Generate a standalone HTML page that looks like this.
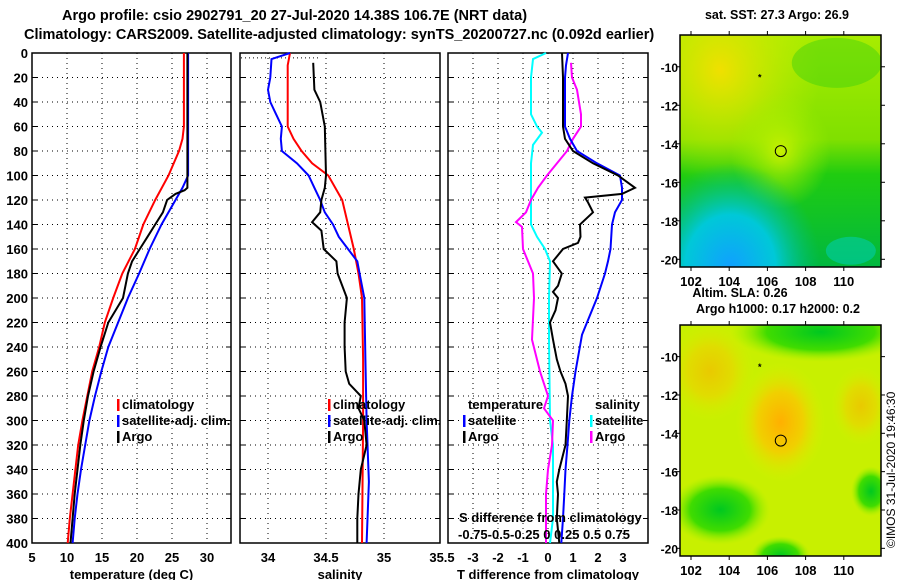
<!DOCTYPE html>
<html><head><meta charset="utf-8"><style>
html,body{margin:0;padding:0;background:#fff;}
svg{display:block;font-family:"Liberation Sans",sans-serif;font-weight:bold;}
</style></head><body>
<svg id="chart" width="900" height="580" viewBox="0 0 900 580" xmlns="http://www.w3.org/2000/svg">
<defs>
<radialGradient id="sstYel" cx="0.2" cy="0.15" r="0.5"><stop offset="0" stop-color="#f0e000"/><stop offset="1" stop-color="#c8f000" stop-opacity="0"/></radialGradient>
<radialGradient id="sstMid" cx="0.5" cy="0.5" r="0.25"><stop offset="0" stop-color="#c8f000"/><stop offset="1" stop-color="#a0f000" stop-opacity="0"/></radialGradient>
<radialGradient id="sstBlue" cx="0.25" cy="1" r="0.45"><stop offset="0" stop-color="#10a0ff"/><stop offset="0.5" stop-color="#00c8d8"/><stop offset="1" stop-color="#00c080" stop-opacity="0"/></radialGradient>
<linearGradient id="sstBase" x1="0" y1="0" x2="0" y2="1"><stop offset="0" stop-color="#a8ec00"/><stop offset="0.45" stop-color="#80e000"/><stop offset="0.6" stop-color="#20cc10"/><stop offset="1" stop-color="#00b840"/></linearGradient>
<radialGradient id="slaOr" cx="0.5" cy="0.5" r="0.5"><stop offset="0" stop-color="#ffb000"/><stop offset="0.5" stop-color="#f0d000"/><stop offset="1" stop-color="#d8f000" stop-opacity="0"/></radialGradient>
<radialGradient id="slaGr" cx="0.5" cy="0.5" r="0.5"><stop offset="0" stop-color="#00c820"/><stop offset="0.6" stop-color="#40dc00"/><stop offset="1" stop-color="#a0f000" stop-opacity="0"/></radialGradient>
<clipPath id="clipSst"><rect x="680" y="35" width="201" height="232"/></clipPath>
<clipPath id="clipSla"><rect x="680" y="325" width="201" height="231"/></clipPath>
</defs>
<g font-size="14.5">
<text x="62" y="20">Argo profile: csio 2902791_20 27-Jul-2020 14.38S 106.7E (NRT data)</text>
<text x="24" y="39">Climatology: CARS2009. Satellite-adjusted climatology: synTS_20200727.nc (0.092d earlier)</text>
</g>
<g id="panels"></g>
<g id="maps"></g>
<text transform="translate(895,548) rotate(-90)" font-size="12" font-weight="normal">©IMOS 31-Jul-2020 19:46:30</text>
</svg>
<script>
// ---- data (depth in m) ----
const tempClimDepth = [0,60,70,80,100,120,140,160,180,200,220,240,260,280,300,320,340,360,380,400];
const tempClim = [26.7,26.7,26.5,26,24.5,22.6,20.9,19.7,17.9,16.6,15.4,14.6,13.6,12.9,12.2,11.6,11.2,10.8,10.4,10.1];
const tempSatDepth = [0,100,110,120,140,160,180,200,220,240,260,280,300,320,340,360,380,400];
const tempSat = [27.3,27.3,26.5,25.5,23.5,21.8,20.3,18.7,17.3,15.9,14.9,14.0,13.2,12.6,12.0,11.5,11.1,10.8];
const tempArgoDepth = [0,110,112,115,120,130,140,150,160,170,180,200,220,240,260,280,300,320,340,360,380,400];
const tempArgo = [27.2,27.2,26.8,25.5,24.3,23.7,22.6,21.5,20.4,19.3,18.7,18,15.9,14.8,13.8,13.0,12.4,11.9,11.5,11.1,10.8,10.5];
const salClimDepth = [0,10,60,70,80,90,100,120,140,160,180,200,250,300,400];
const salClim = [34.19,34.17,34.17,34.22,34.29,34.38,34.52,34.64,34.69,34.74,34.78,34.81,34.82,34.82,34.81];
const salSatDepth = [0,5,20,30,40,50,60,70,80,90,100,110,120,130,140,150,160,170,180,200,250,300,350,400];
const salSat = [34.19,34.03,34.02,34.0,34.02,34.07,34.12,34.11,34.12,34.25,34.35,34.4,34.45,34.49,34.56,34.61,34.69,34.77,34.79,34.83,34.84,34.85,34.87,34.85];
const salArgoDepth = [8,30,40,60,100,110,120,130,138,145,160,170,180,200,220,240,260,270,280,290,300,320,340,360,380,400];
const salArgo = [34.39,34.4,34.45,34.49,34.5,34.49,34.46,34.45,34.38,34.46,34.48,34.59,34.6,34.68,34.66,34.66,34.67,34.7,34.8,34.78,34.83,34.85,34.8,34.78,34.77,34.77];
const tdSatDepth = [0,10,20,60,70,80,90,100,110,120,130,140,160,170,180,200,220,230,260,280,300,320,340,360,380,400];
const tdSat = [0.8,0.72,0.68,0.68,0.88,1.16,1.96,2.88,2.96,2.96,2.68,2.56,2.5,2.4,2.28,1.96,1.56,1.36,1.1,0.96,0.85,0.78,0.7,0.65,0.6,0.53];
const tdArgoDepth = [0,20,60,70,80,90,100,110,115,118,122,130,140,150,155,160,170,180,190,195,200,210,220,234,250,260,270,280,300,320,340,350,360,380,400];
const tdArgo = [0.56,0.6,0.6,0.68,1.0,1.8,2.8,3.48,2.96,1.48,1.6,1.8,1.28,1.3,1.2,0.6,0.2,0.55,0.4,0.2,0.4,0.3,0.08,0.2,0.35,0.5,0.7,0.8,0.75,0.7,0.45,0.35,0.4,0.35,0.45];
const sdSatDepth = [0,5,20,50,60,65,75,90,140,150,160,170,200,234,300,320,380,400];
const sdSat = [-0.02,-0.15,-0.17,-0.17,-0.11,-0.06,-0.15,-0.17,-0.17,-0.11,-0.03,0.02,0.01,0.01,0.02,0.05,0.05,0.02];
const sdArgoDepth = [8,20,30,50,60,70,80,90,100,110,120,130,138,142,160,170,180,200,234,260,280,290,300,320,340,360,400];
const sdArgo = [0.23,0.24,0.29,0.33,0.33,0.25,0.19,0.09,-0.01,-0.1,-0.17,-0.22,-0.32,-0.26,-0.25,-0.2,-0.15,-0.14,-0.16,-0.08,0,-0.04,0.05,0.04,0,-0.02,-0.02];
const depthTicks = [0,20,40,60,80,100,120,140,160,180,200,220,240,260,280,300,320,340,360,380,400];
const tempTicks = [5,10,15,20,25,30];
const salTicks = ['34','34.5','35','35.5'];
const tdTicks = [-3,-2,-1,0,1,2,3];
const latTicks = [-10,-12,-14,-16,-18,-20];
const lonTicks = [102,104,106,108,110];

const NS='http://www.w3.org/2000/svg';
function mk(tag, attrs, parent){const e=document.createElementNS(NS,tag);for(const k in attrs)e.setAttribute(k,attrs[k]);parent.appendChild(e);return e;}
const Y0=53, Y1=543;
const yD = d => Y0 + d*(Y1-Y0)/400;
const panels=document.getElementById('panels');

function panel(name,x0,x1,xs,ticks,labels,xlab,yLabels){
  const g=mk('g',{},panels);
  
  
  depthTicks.forEach(d=>{
    const y=yD(d);
    if(d>0&&d<400){const l=mk('line',{x1:x0,x2:x1,y1:y,y2:y,stroke:'#000','stroke-dasharray':'1,4','stroke-width':1},g);
      
      }
    mk('line',{x1:x0,x2:x0+5,y1:y,y2:y,stroke:'#000'},g);
    mk('line',{x1:x1-5,x2:x1,y1:y,y2:y,stroke:'#000'},g);
    if(yLabels){const t=mk('text',{x:x0-4,y:y+5,'text-anchor':'end','font-size':13},g);t.textContent=d;
      
      }
  });
  ticks.forEach((v,i)=>{
    const x=xs(v);
    if(x>x0+1&&x<x1-1){const l=mk('line',{x1:x,x2:x,y1:Y0,y2:Y1,stroke:'#000','stroke-dasharray':'1,4'},g);
      
      }
    const t=mk('text',{x:x,y:Y1+19,'text-anchor':'middle','font-size':13},g);t.textContent=labels[i];
    
    
  });
  mk('rect',{x:x0,y:Y0,width:x1-x0,height:Y1-Y0,fill:'none',stroke:'#000','stroke-width':1.5},g);
  const xl=mk('text',{x:(x0+x1)/2,y:Y1+36,'text-anchor':'middle','font-size':13},g);xl.textContent=xlab;
  
  
  return g;
}
function series(g,name,xs,depths,vals,color,w){
  const pts=depths.map((d,i)=>xs(vals[i]).toFixed(1)+','+yD(d).toFixed(1)).join(' ');
  const p=mk('polyline',{points:pts,fill:'none',stroke:color,'stroke-width':w||2,'stroke-linejoin':'miter'},g);
  
  
}
function legend(g,x,y,color,label,name){
  mk('rect',{x:x,y:y-10,width:2.5,height:12,fill:color},g);
  const t=mk('text',{x:x+5,y:y,'font-size':13},g);t.textContent=label;
  
  
}

const xT = v => 32 + (v-5)*7;
const g1=panel('temperature-panel',32,231,xT,tempTicks,tempTicks.map(String),'temperature (deg C)',true);
series(g1,'temp-climatology-line',xT,tempClimDepth,tempClim,'#ff0000');
series(g1,'temp-satellite-line',xT,tempSatDepth,tempSat,'#0000ff');
series(g1,'temp-argo-line',xT,tempArgoDepth,tempArgo,'#000');
legend(g1,117,409,'#ff0000','climatology','legend-climatology');
legend(g1,117,425,'#0000ff','satellite-adj. clim.','legend-satellite');
legend(g1,117,441,'#000','Argo','legend-argo');

const xS = v => 268 + (v-34)*116;
const g2=panel('salinity-panel',240,440,xS,salTicks.map(Number),salTicks,'salinity',false);
const dl=mk('line',{x1:241,x2:318,y1:yD(4),y2:yD(4),stroke:'#000','stroke-dasharray':'1,3'},g2);


series(g2,'sal-climatology-line',xS,salClimDepth,salClim,'#ff0000');
series(g2,'sal-satellite-line',xS,salSatDepth,salSat,'#0000ff');
series(g2,'sal-argo-line',xS,salArgoDepth,salArgo,'#000');
legend(g2,328,409,'#ff0000','climatology','legend-climatology');
legend(g2,328,425,'#0000ff','satellite-adj. clim.','legend-satellite');
legend(g2,328,441,'#000','Argo','legend-argo');

const xD = v => 548 + v*25;
const xSD = v => 548 + v*100;
const g3=panel('difference-panel',448,648,xD,tdTicks,tdTicks.map(String),'T difference from climatology',false);
series(g3,'sdiff-satellite-line',xSD,sdSatDepth,sdSat,'#00ffff');
series(g3,'sdiff-argo-line',xSD,sdArgoDepth,sdArgo,'#ff00ff');
series(g3,'tdiff-satellite-line',xD,tdSatDepth,tdSat,'#0000ff');
series(g3,'tdiff-argo-line',xD,tdArgoDepth,tdArgo,'#000');
const t1=mk('text',{x:468,y:409,'font-size':13},g3);t1.textContent='temperature';


const t2=mk('text',{x:595,y:409,'font-size':13},g3);t2.textContent='salinity';


legend(g3,463,425,'#0000ff','satellite','legend-t-satellite');
legend(g3,463,441,'#000','Argo','legend-t-argo');
legend(g3,590,425,'#00ffff','satellite','legend-s-satellite');
legend(g3,590,441,'#ff00ff','Argo','legend-s-argo');
const t3=mk('text',{x:459,y:522,'font-size':13},g3);t3.textContent='S difference from climatology';


const t4=mk('text',{x:458,y:539,'font-size':13},g3);t4.textContent='-0.75-0.5-0.25  0  0.25 0.5 0.75';



const maps=document.getElementById('maps');
const MX0=680, MX1=881;
const lonX = v => 691 + (v-102)*19.1;
function map(name,top,bottom,titles,clip,kind){
  const g=mk('g',{},maps);
  
  
  const f=mk('g',{'clip-path':'url(#'+clip+')'},g);
  const w=MX1-MX0,h=bottom-top;
  if(kind==='sst'){
    mk('rect',{x:MX0,y:top,width:w,height:h,fill:'url(#sstBase)'},f);
    mk('rect',{x:MX0,y:top,width:w,height:h,fill:'url(#sstYel)'},f);
    mk('rect',{x:MX0,y:top,width:w,height:h,fill:'url(#sstMid)'},f);
    mk('rect',{x:MX0,y:top,width:w,height:h,fill:'url(#sstBlue)'},f);
    mk('ellipse',{cx:MX0+w*0.85,cy:top+h*0.93,rx:25,ry:14,fill:'#00d0c0',opacity:0.5},f);
    mk('ellipse',{cx:MX0+w*0.78,cy:top+h*0.12,rx:45,ry:25,fill:'#30cc10',opacity:0.4},f);
  } else {
    mk('rect',{x:MX0,y:top,width:w,height:h,fill:'#c8f000'},f);
    mk('ellipse',{cx:MX0+w*0.5,cy:top+h*0.42,rx:45,ry:60,fill:'url(#slaOr)'},f);
    mk('ellipse',{cx:MX0+w*0.15,cy:top+h*0.2,rx:45,ry:50,fill:'url(#slaOr)',opacity:0.6},f);
    mk('ellipse',{cx:MX0+w*0.9,cy:top+h*0.35,rx:30,ry:40,fill:'url(#slaOr)',opacity:0.6},f);
    mk('ellipse',{cx:MX0+w*0.7,cy:top+h*0.03,rx:90,ry:30,fill:'url(#slaGr)'},f);
    mk('ellipse',{cx:MX0+w*0.2,cy:top+h*0.8,rx:50,ry:35,fill:'url(#slaGr)'},f);
    mk('ellipse',{cx:MX0+w*0.5,cy:top+h*1.0,rx:30,ry:20,fill:'url(#slaGr)'},f);
    mk('ellipse',{cx:MX0+w*0.95,cy:top+h*0.72,rx:20,ry:25,fill:'url(#slaGr)'},f);
  }
  const latY = v => top + (bottom-top)*((-8.35 - v)/12.05);
  mk('rect',{x:MX0,y:top,width:w,height:h,fill:'none',stroke:'#000','stroke-width':1.5},g);
  latTicks.forEach(v=>{const y=latY(v);
    mk('line',{x1:MX0-4,x2:MX0,y1:y,y2:y,stroke:'#000'},g);
    mk('line',{x1:MX1,x2:MX1+4,y1:y,y2:y,stroke:'#000'},g);
    const t=mk('text',{x:MX0-2,y:y+5,'text-anchor':'end','font-size':12},g);t.textContent=v;
    
    });
  lonTicks.forEach(v=>{const x=lonX(v);
    mk('line',{x1:x,x2:x,y1:top-4,y2:top,stroke:'#000'},g);
    mk('line',{x1:x,x2:x,y1:bottom,y2:bottom+4,stroke:'#000'},g);
    const t=mk('text',{x:x,y:bottom+19,'text-anchor':'middle','font-size':13},g);t.textContent=v;
    
    });
  const c=mk('circle',{cx:lonX(106.7),cy:latY(-14.38),r:5.5,fill:'none',stroke:'#000','stroke-width':1},g);
  
  
  const s=mk('text',{x:lonX(105.6),y:latY(-10.5)+4,'text-anchor':'middle','font-size':9},g);s.textContent='*';
  
  
  titles.forEach(tt=>{const t=mk('text',{x:tt[1],y:tt[2],'text-anchor':'middle','font-size':12.5},g);t.textContent=tt[0];
    
    });
}
map('sst-map',35,267,[['sat. SST: 27.3 Argo: 26.9',777,19]],'clipSst','sst');
map('sla-map',325,556,[['Altim. SLA: 0.26',740,297],['Argo h1000: 0.17 h2000: 0.2',778,313]],'clipSla','sla');
</script>
</body></html>
